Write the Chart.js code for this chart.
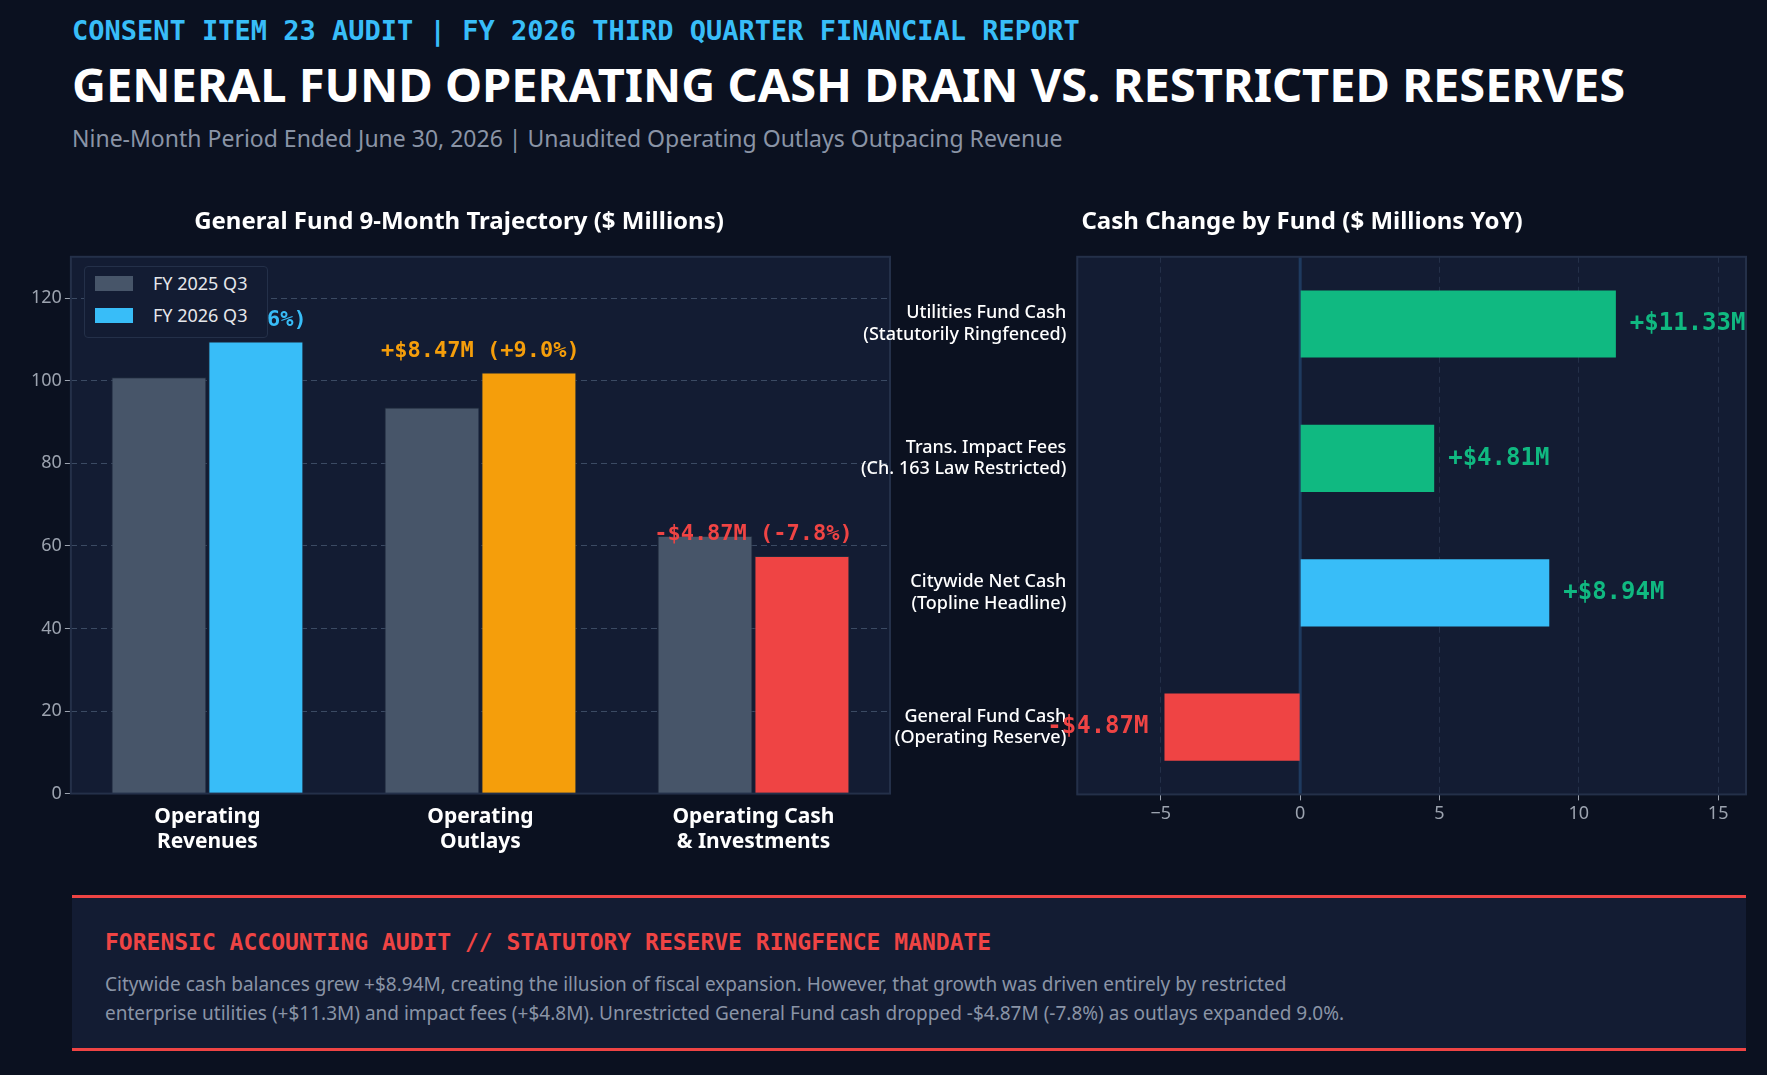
<!DOCTYPE html>
<html><head><meta charset="utf-8">
<script src="https://cdn.jsdelivr.net/npm/chart.js@4"></script>
<style>
body{margin:0;background:#0b1120;width:1767px;height:1075px;overflow:hidden;font-family:"Noto Sans",sans-serif;position:relative}
.abs{position:absolute}
#kick{left:72px;top:15px;font:bold 27px "DejaVu Sans Mono",monospace;color:#38bdf8}
#title{left:72px;top:52px;font:bold 47px "Noto Sans";color:#fff}
#sub{left:72px;top:122px;font:23px "Noto Sans";color:#8a94a6}
#legend{left:84px;top:266px;width:182px;height:70px;border:1px solid #243049;border-radius:4px;background:#131c33;color:#e5e7eb;font:18px "Noto Sans"}
#legend div{display:flex;align-items:center;height:32px;padding-left:10px}
#legend span{display:inline-block;width:38px;height:15px;margin-right:20px}
#note{left:72px;top:895px;width:1674px;height:156px;background:#131c33;border-top:3px solid #ef4444;border-bottom:3px solid #ef4444;box-sizing:border-box}
#note h3{margin:0;position:absolute;left:33px;top:31px;font:bold 23px "DejaVu Sans Mono",monospace;color:#ef4444}
#note p{margin:0;position:absolute;left:33px;top:72px;font:19px "Noto Sans";color:#8a94a6;line-height:29px;width:1600px}
</style></head><body>
<div id="kick" class="abs">CONSENT ITEM 23 AUDIT | FY 2026 THIRD QUARTER FINANCIAL REPORT</div>
<div id="title" class="abs">GENERAL FUND OPERATING CASH DRAIN VS. RESTRICTED RESERVES</div>
<div id="sub" class="abs">Nine-Month Period Ended June 30, 2026 | Unaudited Operating Outlays Outpacing Revenue</div>
<canvas id="c1" class="abs" style="left:10px;top:200px;width:900px;height:658px"></canvas>
<canvas id="c2" class="abs" style="left:858px;top:200px;width:900px;height:628px"></canvas>
<div id="legend" class="abs">
<div><span style="background:#475569"></span>FY 2025 Q3</div>
<div><span style="background:#38bdf8"></span>FY 2026 Q3</div>
</div>
<div id="note" class="abs">
<h3>FORENSIC ACCOUNTING AUDIT // STATUTORY RESERVE RINGFENCE MANDATE</h3>
<p>Citywide cash balances grew +$8.94M, creating the illusion of fiscal expansion. However, that growth was driven entirely by restricted<br>enterprise utilities (+$11.3M) and impact fees (+$4.8M). Unrestricted General Fund cash dropped -$4.87M (-7.8%) as outlays expanded 9.0%.</p>
</div>
<script>
const categories = [['Operating','Revenues'],['Operating','Outlays'],['Operating Cash','& Investments']];
const fy2025 = [100.8, 93.5, 62.4];
const fy2026 = [109.47, 101.97, 57.53];
const changeLabels = ['+$8.67M (+8.6%)', '+$8.47M (+9.0%)', '-$4.87M (-7.8%)'];
const fy2026Colors = ['#38bdf8', '#f59e0b', '#ef4444'];
const leftTicks = [0, 20, 40, 60, 80, 100, 120];

const funds = [['Utilities Fund Cash','(Statutorily Ringfenced)'],['Trans. Impact Fees','(Ch. 163 Law Restricted)'],['Citywide Net Cash','(Topline Headline)'],['General Fund Cash','(Operating Reserve)']];
const fundChange = [11.33, 4.81, 8.94, -4.87];
const fundLabels = ['+$11.33M', '+$4.81M', '+$8.94M', '-$4.87M'];
const fundColors = ['#10b981', '#10b981', '#38bdf8', '#ef4444'];
const rightTicks = [-5, 0, 5, 10, 15];

const panel = {
  id:'panel',
  beforeDraw(c){const a=c.chartArea,x=c.ctx;x.save();x.fillStyle='#131c33';x.fillRect(a.left,a.top,a.right-a.left,a.bottom-a.top);x.restore();},
  afterDraw(c){const a=c.chartArea,x=c.ctx;x.save();x.strokeStyle='#243049';x.lineWidth=2;x.strokeRect(a.left,a.top,a.right-a.left,a.bottom-a.top);x.restore();}
};
const titleFont = {family:'Noto Sans', size:24, weight:'bold'};
const setTicks = list => s => { s.ticks = list.map(v => ({value:v})); };

new Chart(document.getElementById('c1'), {
  type:'bar',
  data:{labels:categories, datasets:[
    {data:fy2025, backgroundColor:'#475569', borderColor:'#1e293b', borderWidth:1, categoryPercentage:0.71, barPercentage:0.98},
    {data:fy2026, backgroundColor:fy2026Colors, borderColor:'#1e293b', borderWidth:1, categoryPercentage:0.71, barPercentage:0.98}
  ]},
  options:{responsive:false, animation:false, layout:{padding:{left:18,right:20}},
    plugins:{legend:{display:false}, title:{display:true, text:'General Fund 9-Month Trajectory ($ Millions)', color:'#fff', font:titleFont, padding:{top:8,bottom:20}}},
    scales:{
      x:{grid:{display:false}, border:{color:'#475569'}, ticks:{color:'#fff', font:{family:'Noto Sans',size:21,weight:'bold'}}},
      y:{min:0, max:130, afterBuildTicks:setTicks(leftTicks), ticks:{color:'#9ca3af', font:{family:'Noto Sans',size:18}},
        grid:{color:'#3b4a63', tickColor:'#9ca3af', tickLength:6}, border:{color:'#475569', dash:[6,4]}}
    }},
  plugins:[panel,{id:'lbl',afterDatasetsDraw(c){const x=c.ctx,m0=c.getDatasetMeta(0),m1=c.getDatasetMeta(1);x.save();x.font='bold 22px "DejaVu Sans Mono"';x.textAlign='center';
    changeLabels.forEach((t,i)=>{x.fillStyle=fy2026Colors[i];const cx=(m0.data[i].x+m1.data[i].x)/2;x.fillText(t,cx,m1.data[i].y-16);});x.restore();}}]
});

new Chart(document.getElementById('c2'), {
  type:'bar',
  data:{labels:funds, datasets:[{data:fundChange, backgroundColor:fundColors, categoryPercentage:0.5, barPercentage:1}]},
  options:{indexAxis:'y', responsive:false, animation:false, layout:{padding:{right:12}},
    plugins:{legend:{display:false}, title:{display:true, text:'Cash Change by Fund ($ Millions YoY)', color:'#fff', font:titleFont, padding:{top:8,bottom:20}}},
    scales:{
      x:{min:-8, max:16, afterBuildTicks:setTicks(rightTicks), ticks:{color:'#9ca3af', font:{family:'Noto Sans',size:18}, callback:v=>v<0?'\u2212'+(-v):v},
        grid:{color:'#243049', tickColor:'#9ca3af', tickLength:6}, border:{color:'#243049', dash:[6,4]}},
      y:{grid:{display:false}, border:{color:'#243049'}, ticks:{color:'#fff', font:{family:'Noto Sans',size:18,weight:'500'}}}
    }},
  plugins:[panel,{id:'zero',beforeDatasetsDraw(c){const a=c.chartArea,x=c.ctx,px=c.scales.x.getPixelForValue(0);x.save();x.strokeStyle='#1e3a5f';x.lineWidth=3;x.beginPath();x.moveTo(px,a.top);x.lineTo(px,a.bottom);x.stroke();x.restore();}},
    {id:'lbl2',afterDatasetsDraw(c){const x=c.ctx,m=c.getDatasetMeta(0);x.save();x.font='bold 24px "DejaVu Sans Mono"';x.textBaseline='middle';
    fundLabels.forEach((t,i)=>{const b=m.data[i];const neg=fundChange[i]<0;x.fillStyle=neg?'#ef4444':'#10b981';x.textAlign=neg?'right':'left';x.fillText(t,neg?b.x-16:b.x+14,b.y);});x.restore();}}]
});
</script>
</body></html>
